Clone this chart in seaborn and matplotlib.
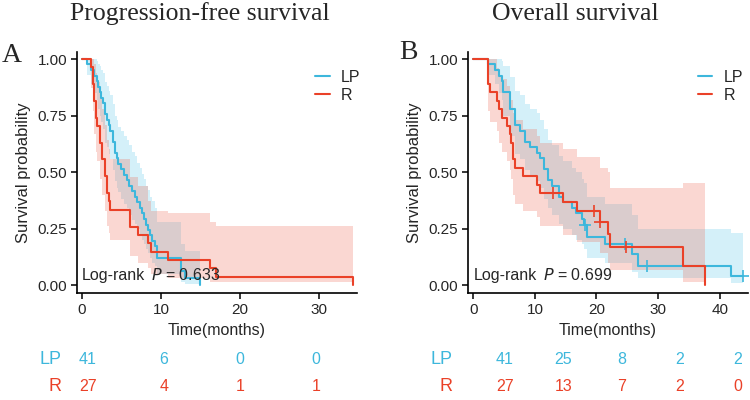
import numpy as np
import matplotlib
matplotlib.use("Agg")
import matplotlib.pyplot as plt
from matplotlib.lines import Line2D
import seaborn as sns

sns.set_theme(style="white")
plt.rcParams["font.family"] = ["Liberation Sans", "DejaVu Sans"]

BLUE = "#3db7dc"
RED = "#ea4128"

# --- Progression-free survival (panel A) ---
pfs_lp_t = [0, 0.7, 1.2, 1.5, 1.9, 2.1, 2.3, 2.5, 2.7, 2.9, 3.0, 3.2, 3.4, 3.6, 3.9, 4.2, 4.4, 4.6,
            5.0, 5.4, 5.7, 6.0, 6.3, 6.7, 7.0, 7.3, 7.6, 7.9, 8.1, 8.4, 8.6, 8.9, 9.3, 9.5, 12.6, 13.0, 14.9]
pfs_lp_s = [1, .976, .951, .927, .902, .878, .854, .829, .805, .780, .756, .732, .707, .683, .634, .585, .561, .537,
            .512, .488, .463, .439, .415, .390, .366, .341, .317, .293, .268, .244, .220, .195, .171, .122, .061, .030, 0.0]
pfs_lp_lo = [1, .93, .89, .85, .82, .78, .75, .72, .69, .66, .63, .61, .58, .56, .51, .46, .43, .41,
             .38, .36, .34, .31, .29, .27, .25, .22, .20, .18, .16, .14, .12, .10, .085, .05, .012, .004, 0.0]
pfs_lp_hi = [1, 1, 1, 1, .99, .98, .97, .95, .94, .92, .90, .88, .86, .84, .80, .75, .73, .70,
             .68, .66, .64, .62, .59, .57, .54, .52, .49, .47, .44, .42, .39, .37, .34, .28, .18, .15, 0.0]

pfs_r_t = [0, 1.2, 1.4, 1.6, 1.8, 1.9, 2.3, 2.6, 2.9, 3.2, 3.4, 3.6, 6.1, 7.1, 8.4, 8.8, 10.9, 16.2, 17.0, 34.3]
pfs_r_s = [1, .963, .889, .815, .741, .704, .630, .556, .481, .407, .370, .333, .259, .222, .185, .148, .111, .074, .037, 0.0]
pfs_r_lo = [1, .87, .77, .67, .59, .55, .47, .40, .33, .26, .23, .20, .13, .10, .075, .05, .03, .015, .012, 0.0]
pfs_r_hi = [1, 1, 1, .98, .94, .90, .85, .78, .71, .64, .60, .56, .48, .44, .37, .33, .32, .28, .26, 0.0]

# --- Overall survival (panel B) ---
os_lp_t = [0, 2.4, 3.5, 4.2, 4.6, 4.9, 6.0, 6.8, 7.6, 8.4, 9.2, 10.3, 10.8, 11.4, 12.2, 12.8, 13.9, 14.6,
           16.0, 16.6, 17.7, 18.0, 18.5, 21.4, 25.7, 26.8, 41.9, 43.8]
os_lp_s = [1, .976, .951, .927, .902, .854, .780, .707, .683, .634, .610, .585, .561, .512, .463, .439, .390, .366,
           .341, .317, .293, .268, .212, .183, .139, .083, .042, .042]
os_lp_lo = [1, .93, .89, .85, .82, .75, .66, .58, .56, .51, .48, .46, .43, .38, .34, .31, .27, .25,
            .22, .20, .18, .16, .12, .10, .06, .03, .008, .008]
os_lp_hi = [1, 1, 1, 1, .99, .97, .92, .86, .84, .80, .78, .76, .73, .69, .64, .62, .57, .55,
            .52, .50, .47, .45, .39, .36, .31, .25, .23, .23]
os_lp_cens = [18.2, 24.6, 28.2, 43.8]

os_r_t = [0, 2.4, 2.7, 3.8, 4.2, 4.6, 5.4, 6.0, 6.2, 6.4, 6.5, 6.7, 8.1, 10.3, 10.8, 14.6, 16.8, 20.5, 21.9, 22.2, 34.1, 37.6]
os_r_s = [1, .889, .852, .815, .778, .741, .704, .667, .630, .593, .556, .519, .481, .444, .407, .366, .326, .280, .224, .168, .084, 0.0]
os_r_lo = [1, .77, .72, .68, .63, .59, .55, .51, .47, .43, .40, .36, .33, .30, .26, .22, .19, .14, .10, .066, .012, 0.0]
os_r_hi = [1, 1, 1, .96, .93, .91, .88, .85, .82, .79, .76, .73, .69, .66, .63, .60, .566, .52, .50, .43, .45, 0.0]
os_r_cens = [13.0, 19.6, 20.5, 24.8]

# risk tables
pfs_risk_t = [0, 10, 20, 30]
pfs_risk_lp = [41, 6, 0, 0]
pfs_risk_r = [27, 4, 1, 1]
os_risk_t = [0, 10, 20, 30, 40]
os_risk_lp = [41, 25, 8, 2, 2]
os_risk_r = [27, 13, 7, 2, 0]


def step_value(t, s, x):
    i = np.searchsorted(t, x, side="right") - 1
    return s[i]


def km_panel(ax, curves, xlim, xticks, ptext, legend_x):
    for t, s, lo, hi, col, band in curves:
        ax.fill_between(t, lo, hi, step="post", color=band, alpha=0.24, linewidth=0)
    for t, s, lo, hi, col, band in curves:
        sns.lineplot(x=t, y=s, drawstyle="steps-post", color=col, linewidth=1.5,
                     estimator=None, ax=ax)
    ax.set_xlim(*xlim)
    ax.set_ylim(-0.034, 1.032)
    ax.set_xticks(xticks)
    ax.set_yticks([0, 0.25, 0.5, 0.75, 1.0])
    ax.set_yticklabels(["0.00", "0.25", "0.50", "0.75", "1.00"])
    ax.set_xlabel("Time(months)", fontsize=11.5, labelpad=5)
    ax.set_ylabel("Survival probability", fontsize=12, labelpad=5)
    ax.tick_params(axis="both", labelsize=11, length=4, width=1.1, color="black",
                   direction="out", bottom=True, left=True, pad=3)
    for side in ["top", "right"]:
        ax.spines[side].set_visible(False)
    for side in ["left", "bottom"]:
        ax.spines[side].set_color("black")
        ax.spines[side].set_linewidth(1.2)
    ax.annotate("Log-rank", xy=(0, 0.044), xycoords="data", xytext=(0, 0),
                textcoords="offset points", fontsize=11.5, va="center", ha="left")
    ax.annotate("$\\it{P}$ = " + ptext, xy=(0, 0.044), xycoords="data",
                xytext=(50, 0), textcoords="offset points", fontsize=11.5, va="center")
    handles = [Line2D([0], [0], color=BLUE, lw=1.5), Line2D([0], [0], color=RED, lw=1.5)]
    ax.legend(handles, ["LP", "R"], loc="upper left", bbox_to_anchor=(legend_x, 0.985),
              frameon=False, fontsize=11.5, handlelength=0.9, handletextpad=0.7,
              labelspacing=0.2)


fig = plt.figure(figsize=(7.5, 4), dpi=100)
axA = fig.add_axes([0.1027, 0.268, 0.3733, 0.6025])
axB = fig.add_axes([0.624, 0.268, 0.3733, 0.6025])

km_panel(axA,
         [(pfs_lp_t, pfs_lp_s, pfs_lp_lo, pfs_lp_hi, BLUE, "#4cc3e6"),
          (pfs_r_t, pfs_r_s, pfs_r_lo, pfs_r_hi, RED, "#ee5a45")],
         (-0.59, 34.76), [0, 10, 20, 30], "0.633", 0.8)
km_panel(axB,
         [(os_lp_t, os_lp_s, os_lp_lo, os_lp_hi, BLUE, "#4cc3e6"),
          (os_r_t, os_r_s, os_r_lo, os_r_hi, RED, "#ee5a45")],
         (-0.86, 44.6), [0, 10, 20, 30, 40], "0.699", 0.77)

# censor marks
for cens, t, s, col in [(os_lp_cens, os_lp_t, os_lp_s, BLUE), (os_r_cens, os_r_t, os_r_s, RED)]:
    ys = [step_value(t, s, c) for c in cens]
    axB.scatter(cens, ys, marker="+", s=70, color=col, linewidths=1.2, zorder=5)

# titles and panel letters
fig.text(0.267, 0.966, "Progression-free survival", family="Liberation Serif", fontsize=18.5,
         ha="center", va="center")
fig.text(0.767, 0.966, "Overall survival", family="Liberation Serif", fontsize=18.5,
         ha="center", va="center")
fig.text(0.016, 0.862, "A", family="Liberation Serif", fontsize=20, ha="center", va="center")
fig.text(0.545, 0.868, "B", family="Liberation Serif", fontsize=20, ha="center", va="center")

# risk tables
for rect, xl, times, lp, r in [([0.1027, 0.0, 0.3733, 0.15], (-1.45, 35.4), pfs_risk_t, pfs_risk_lp, pfs_risk_r),
                               ([0.624, 0.0, 0.3733, 0.15], (-6.35, 41.7), os_risk_t, os_risk_lp, os_risk_r)]:
    rax = fig.add_axes(rect)
    rax.set_xlim(*xl)
    rax.set_ylim(0, 1)
    rax.axis("off")
    for x, a, b in zip(times, lp, r):
        rax.text(x, 0.68, str(a), color=BLUE, fontsize=11.5, ha="center", va="center")
        rax.text(x, 0.22, str(b), color=RED, fontsize=11.5, ha="center", va="center")
    rax.text(-0.055, 0.68, "LP", color=BLUE, fontsize=13, ha="right", va="center",
             transform=rax.transAxes)
    rax.text(-0.055, 0.22, "R", color=RED, fontsize=13, ha="right", va="center",
             transform=rax.transAxes)

fig.savefig("out.png", dpi=100)
